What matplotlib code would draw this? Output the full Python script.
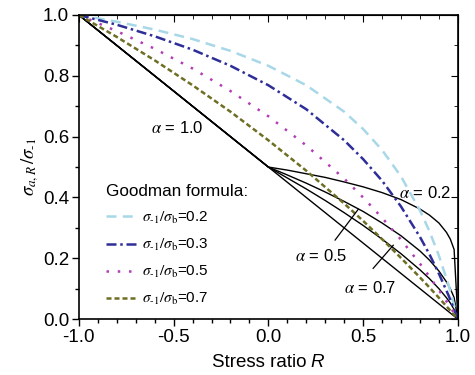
import matplotlib
matplotlib.use("Agg")
import matplotlib.pyplot as plt
from matplotlib.ticker import MultipleLocator

plt.rcParams['font.family'] = ['Liberation Sans', 'DejaVu Sans']
plt.rcParams['mathtext.fontset'] = 'stix'

# Goodman curves
R_g = [-1.0, -0.8, -0.6, -0.4, -0.2, 0.0, 0.2, 0.4, 0.5, 0.6, 0.7, 0.8, 0.85, 0.9, 0.95, 1.0]
good_02 = [1.0, 0.978, 0.952, 0.921, 0.882, 0.833, 0.769, 0.682, 0.625, 0.556, 0.469, 0.357, 0.289, 0.208, 0.114, 0.0]
good_03 = [1.0, 0.968, 0.930, 0.886, 0.833, 0.769, 0.690, 0.588, 0.526, 0.455, 0.370, 0.270, 0.213, 0.149, 0.079, 0.0]
good_05 = [1.0, 0.947, 0.889, 0.824, 0.750, 0.667, 0.571, 0.462, 0.400, 0.333, 0.261, 0.182, 0.140, 0.095, 0.049, 0.0]
good_07 = [1.0, 0.928, 0.851, 0.769, 0.682, 0.588, 0.488, 0.380, 0.323, 0.263, 0.201, 0.137, 0.104, 0.070, 0.035, 0.0]

# alpha curves
R_a = [-1.0, 0.0, 0.1, 0.2, 0.3, 0.4, 0.5, 0.6, 0.7, 0.8, 0.85, 0.9, 0.94, 0.96, 0.98, 1.0]
alpha_02 = [1.0, 0.5, 0.490, 0.478, 0.466, 0.451, 0.435, 0.416, 0.393, 0.362, 0.342, 0.316, 0.285, 0.263, 0.229, 0.0]
alpha_05 = [1.0, 0.5, 0.474, 0.447, 0.418, 0.387, 0.354, 0.316, 0.274, 0.224, 0.194, 0.158, 0.122, 0.100, 0.071, 0.0]
alpha_07 = [1.0, 0.5, 0.464, 0.428, 0.390, 0.350, 0.308, 0.263, 0.215, 0.162, 0.133, 0.100, 0.070, 0.053, 0.032, 0.0]
R_lin = [-1.0, 0.0, 1.0]
alpha_10 = [1.0, 0.5, 0.0]

ratio_labels = ["0.2", "0.3", "0.5", "0.7"]

fig = plt.figure(figsize=(4.75, 3.75), dpi=100)
ax = fig.add_axes([0.166, 0.149, 0.798, 0.811])

for y in (alpha_02, alpha_05, alpha_07):
    ax.plot(R_a, y, color="k", lw=1.0)
ax.plot(R_lin, alpha_10, color="k", lw=1.0)

lab = r"$\sigma_{\text{-1}}/\sigma_{\rm b}$="
ax.plot(R_g, good_02, color="#a8d8e8", lw=1.8, dashes=(4, 2.5), label=lab + ratio_labels[0])
ax.plot(R_g, good_03, color="#2e2e98", lw=1.8, dashes=(4, 1.5, 1, 1.5), label=lab + ratio_labels[1])
ax.plot(R_g, good_05, color="#b23cb4", lw=1.8, dashes=(1, 3.5), label=lab + ratio_labels[2])
ax.plot(R_g, good_07, color="#6e6e24", lw=1.8, dashes=(2, 1.2), label=lab + ratio_labels[3])

fs = 12
ax.text(-0.48, 0.628, r"$\alpha$ = 1.0", fontsize=fs, ha="center", va="center")
ax.text(0.83, 0.414, r"$\alpha$ = 0.2", fontsize=fs, ha="center", va="center")
ax.text(0.277, 0.207, r"$\alpha$ = 0.5", fontsize=fs, ha="center", va="center")
ax.text(0.536, 0.102, r"$\alpha$ = 0.7", fontsize=fs, ha="center", va="center")
ax.plot([0.352, 0.474], [0.26, 0.361], color="k", lw=0.9)
ax.plot([0.553, 0.659], [0.167, 0.243], color="k", lw=0.9)

leg = ax.legend(title="Goodman formula:", loc="upper left", bbox_to_anchor=(0.055, 0.465),
                frameon=False, fontsize=11, title_fontsize=12.3, handlelength=2.0,
                handletextpad=0.4, labelspacing=0.72, alignment="left", borderaxespad=0)

ax.set_xlim(-1.0, 1.0)
ax.set_ylim(0.0, 1.0)
ax.xaxis.set_major_locator(MultipleLocator(0.5))
ax.xaxis.set_minor_locator(MultipleLocator(0.1))
ax.yaxis.set_major_locator(MultipleLocator(0.2))
ax.yaxis.set_minor_locator(MultipleLocator(0.1))
ax.xaxis.set_major_formatter(lambda v, p: f"{v:.1f}")
ax.yaxis.set_major_formatter(lambda v, p: f"{v:.1f}")
ax.tick_params(which="major", direction="out", length=5, width=1.0, labelsize=13.5, pad=2)
ax.tick_params(which="minor", direction="out", length=3, width=1.0)
for s in ax.spines.values():
    s.set_linewidth(1.2)

# mirrored ticks on top and right pointing inward
top = ax.secondary_xaxis("top")
top.xaxis.set_major_locator(MultipleLocator(0.5))
top.xaxis.set_minor_locator(MultipleLocator(0.1))
top.tick_params(which="major", direction="in", length=5, labeltop=False)
top.tick_params(which="minor", direction="in", length=3)
right = ax.secondary_yaxis("right")
right.yaxis.set_major_locator(MultipleLocator(0.2))
right.yaxis.set_minor_locator(MultipleLocator(0.1))
right.tick_params(which="major", direction="in", length=5, labelright=False)
right.tick_params(which="minor", direction="in", length=3)

# x label: sans text with italic sans R
xl = ax.text(0.601, -0.141, "Stress ratio", transform=ax.transAxes, fontsize=13.5,
             ha="right", va="center")
ax.annotate("R", xy=(1, 0), xycoords=xl, xytext=(3, 0), textcoords="offset points",
            fontsize=13.5, fontstyle="italic", ha="left", va="bottom")
ax.set_ylabel(r"$\sigma_{a,R}\,/\sigma_{\text{-1}}$", fontsize=13.5, labelpad=1)

fig.savefig("out.png", dpi=100)
